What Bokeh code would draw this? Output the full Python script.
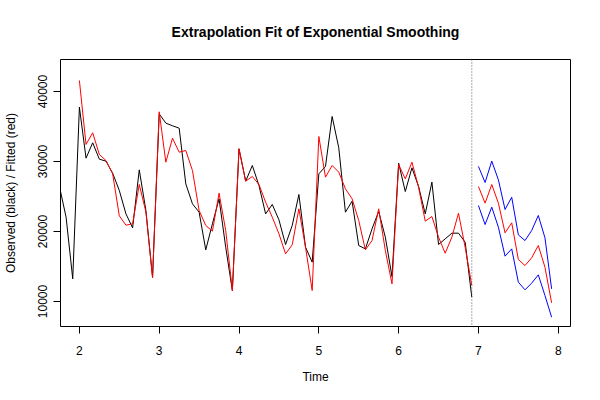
from bokeh.plotting import figure
from bokeh.models import FixedTicker, Span, Range1d
from bokeh.embed import file_html
from bokeh.resources import INLINE

# ---- data (monthly series, time in years) ----
obs_start = 1.75
observed = [26430, 22050, 13240,
            37760, 30480, 32670, 30330, 30050, 28330, 25860, 22520, 20520, 28810, 23000, 13480,
            36800, 35480, 35100, 34760, 26810, 23950, 22760, 17380, 21100, 24670, 17760, 11570,
            31810, 27190, 29430, 26570, 22520, 23860, 21670, 18140, 20860, 25290, 17760, 15620,
            28240, 29290, 36430, 31950, 22760, 24330, 18000, 17520, 20380, 22860, 19190, 13570,
            29760, 25710, 29100, 26430, 22520, 27050, 18140, 18950, 19760, 19760, 18480, 10620]

fit_start = 2.0
fitted = [41570, 32430, 34100, 31000, 30140, 28240, 22240, 20900, 21100, 26710, 22800, 13400,
          37100, 29900, 33330, 31330, 31570, 28710, 23000, 20860, 20050, 25480, 20140, 11570,
          31810, 27190, 27860, 26710, 24190, 22050, 19670, 16810, 18100, 23240, 17760, 11570,
          33570, 27760, 29430, 28480, 26100, 24670, 21570, 17380, 18710, 23240, 17290, 12520,
          29570, 27520, 29900, 26330, 21480, 22140, 19190, 16900, 19190, 22620, 17760, 12290]

fc_start = 7.0
forecast = [26430, 24050, 26710, 24050, 19810, 21240, 16000, 15140, 16240, 18000, 14900, 9810]
fc_upper = [29290, 27000, 30050, 27380, 23140, 24900, 19520, 18710, 20140, 22290, 19100, 11810]
fc_lower = [23710, 21000, 23480, 20620, 16480, 17520, 12760, 11670, 12620, 13810, 10860, 7760]

split_time = 6.9167
x_ticks = [2, 3, 4, 5, 6, 7, 8]
y_ticks = [10000, 20000, 30000, 40000]
freq = 12

t_obs = [obs_start + i / freq for i in range(len(observed))]
t_fit = [fit_start + i / freq for i in range(len(fitted))]
t_fc = [fc_start + i / freq for i in range(len(forecast))]

FONT = "Liberation Sans"

p = figure(width=600, height=400, output_backend="svg", toolbar_location=None,
           x_range=Range1d(1.7633, 8.1533), y_range=Range1d(6430, 44570),
           min_border_left=59, min_border_right=30, min_border_top=59, min_border_bottom=74)

p.title.text = "Extrapolation Fit of Exponential Smoothing"
p.title.align = "center"
p.title.text_font = FONT
p.title.text_font_size = "14px"
p.title.text_font_style = "bold"
p.title.text_color = "black"
p.title.standoff = 40

p.grid.visible = False
p.outline_line_color = "black"
p.outline_line_width = 1
p.background_fill_color = "white"
p.border_fill_color = "white"

for ax in (p.xaxis[0], p.yaxis[0]):
    ax.axis_line_color = None
    ax.major_tick_in = 0
    ax.major_tick_out = 7
    ax.major_tick_line_color = "black"
    ax.minor_tick_line_color = None
    ax.major_label_text_font = FONT
    ax.major_label_text_font_size = "12px"
    ax.major_label_text_color = "black"
    ax.axis_label_text_font = FONT
    ax.axis_label_text_font_size = "12px"
    ax.axis_label_text_font_style = "normal"
    ax.axis_label_text_color = "black"

p.xaxis.ticker = FixedTicker(ticks=x_ticks)
p.yaxis.ticker = FixedTicker(ticks=y_ticks)
p.yaxis.major_label_overrides = {v: str(v) for v in y_ticks}
p.yaxis.major_label_orientation = "vertical"
p.xaxis.axis_label = "Time"
p.yaxis.axis_label = "Observed (black) / Fitted (red)"
p.xaxis.major_label_standoff = 12
p.xaxis.axis_label_standoff = 12
p.yaxis.major_label_standoff = 6
p.yaxis.axis_label_standoff = 18

p.line(t_obs, observed, line_color="black", line_width=1)
p.line(t_fit, fitted, line_color="red", line_width=1)
p.line(t_fc, forecast, line_color="red", line_width=1)
p.line(t_fc, fc_upper, line_color="blue", line_width=1)
p.line(t_fc, fc_lower, line_color="blue", line_width=1)

p.add_layout(Span(location=split_time, dimension="height", line_color="#555555",
                  line_dash="1 2", line_width=1))

open("out.html", "w").write(file_html(p, INLINE))
